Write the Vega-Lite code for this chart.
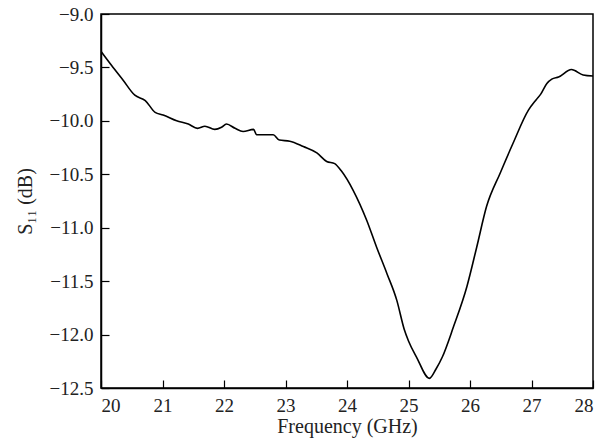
{
  "$schema": "https://vega.github.io/schema/vega-lite/v6.json",
  "width": 492,
  "height": 374,
  "autosize": {"type": "none"},
  "padding": {"left": 101, "top": 14, "right": 21, "bottom": 59},
  "background": "white",
  "config": {
    "view": {"stroke": "black", "strokeWidth": 1.5},
    "font": "Liberation Serif",
    "axis": {
      "domainColor": "black",
      "domainWidth": 1.5,
      "tickColor": "black",
      "tickWidth": 1.2,
      "tickSize": -8,
      "grid": false,
      "labelFont": "Liberation Serif",
      "labelFontSize": 19,
      "labelColor": "#222",
      "titleFont": "Liberation Serif",
      "titleFontSize": 20,
      "titleFontWeight": "normal",
      "titleColor": "#222"
    }
  },
  "data": {
    "values": [
      {"f": 20.0, "s": -9.35},
      {"f": 20.17, "s": -9.48},
      {"f": 20.36, "s": -9.62},
      {"f": 20.55, "s": -9.76},
      {"f": 20.72, "s": -9.81},
      {"f": 20.88, "s": -9.92},
      {"f": 21.01, "s": -9.945},
      {"f": 21.23, "s": -10.0},
      {"f": 21.42, "s": -10.03},
      {"f": 21.57, "s": -10.07},
      {"f": 21.69, "s": -10.05},
      {"f": 21.85, "s": -10.08},
      {"f": 21.96, "s": -10.06},
      {"f": 22.04, "s": -10.03},
      {"f": 22.18, "s": -10.07},
      {"f": 22.31, "s": -10.1},
      {"f": 22.48, "s": -10.08},
      {"f": 22.53, "s": -10.13},
      {"f": 22.8, "s": -10.13},
      {"f": 22.9, "s": -10.18},
      {"f": 23.07, "s": -10.19},
      {"f": 23.29, "s": -10.24},
      {"f": 23.51, "s": -10.3},
      {"f": 23.67, "s": -10.38},
      {"f": 23.8, "s": -10.4},
      {"f": 23.91, "s": -10.47},
      {"f": 24.1, "s": -10.65},
      {"f": 24.32, "s": -10.93},
      {"f": 24.48, "s": -11.18},
      {"f": 24.65, "s": -11.43},
      {"f": 24.81, "s": -11.68},
      {"f": 24.93, "s": -11.95},
      {"f": 25.0, "s": -12.06},
      {"f": 25.13, "s": -12.21},
      {"f": 25.34, "s": -12.41},
      {"f": 25.45, "s": -12.32},
      {"f": 25.55, "s": -12.21},
      {"f": 25.73, "s": -11.93},
      {"f": 25.95, "s": -11.55},
      {"f": 26.11, "s": -11.18},
      {"f": 26.27, "s": -10.8},
      {"f": 26.49, "s": -10.49},
      {"f": 26.7, "s": -10.21},
      {"f": 26.95, "s": -9.9},
      {"f": 27.08, "s": -9.8},
      {"f": 27.15, "s": -9.75},
      {"f": 27.25, "s": -9.65},
      {"f": 27.33, "s": -9.61},
      {"f": 27.44, "s": -9.59},
      {"f": 27.65, "s": -9.52},
      {"f": 27.84, "s": -9.57},
      {"f": 28.0, "s": -9.58}
    ]
  },
  "mark": {"type": "line", "color": "black", "strokeWidth": 1.6, "clip": true, "interpolate": "monotone"},
  "encoding": {
    "x": {
      "field": "f",
      "type": "quantitative",
      "scale": {"domain": [20, 28], "nice": false, "zero": false},
      "axis": {"values": [20, 21, 22, 23, 24, 25, 26, 27, 28], "format": "d", "title": "Frequency (GHz)", "labelPadding": 16, "titlePadding": 1}
    },
    "y": {
      "field": "s",
      "type": "quantitative",
      "scale": {"domain": [-12.5, -9.0], "nice": false, "zero": false},
      "axis": {"values": [-12.5, -12.0, -11.5, -11.0, -10.5, -10.0, -9.5, -9.0], "format": ".1f", "title": "S₁₁ (dB)", "labelPadding": 16, "titlePadding": 14}
    }
  }
}
